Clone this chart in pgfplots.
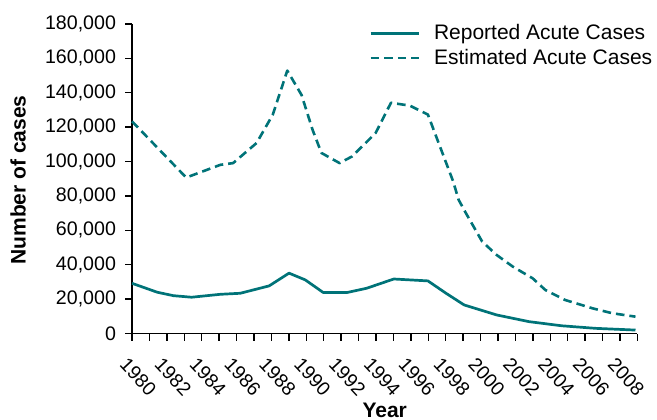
\documentclass[border=0pt]{standalone}
\usepackage{fontspec}
\setmainfont{Liberation Sans}
\usepackage{pgfplots}
\pgfplotsset{compat=1.18}
\definecolor{lineteal}{RGB}{0,115,120}
\begin{document}
\begin{tikzpicture}
\path[use as bounding box] (-66pt,-42.75pt) rectangle (262.5pt,166.75pt);
\begin{axis}[
  at={(0,0)}, anchor=south west,
  scale only axis, width=252.7pt, height=154.75pt,
  xmin=1980, xmax=2009, ymin=0, ymax=180000,
  axis lines=left, axis line style={-, line width=0.7pt},
  clip=false,
  xtick={1980,1982,...,2008}, minor xtick={1981,1983,...,2009},
  xticklabels={1980,1982,1984,1986,1988,1990,1992,1994,1996,1998,2000,2002,2004,2006,2008},
  ytick={0,20000,40000,60000,80000,100000,120000,140000,160000,180000},
  yticklabels={0,{20,000},{40,000},{60,000},{80,000},{100,000},{120,000},{140,000},{160,000},{180,000}},
  tick align=outside, major tick length=3.5pt, minor tick length=3.5pt,
  every tick/.style={black, line width=0.7pt},
  minor tick style={black, line width=0.7pt},
  scaled y ticks=false,
  yticklabel style={font=\fontsize{9.8}{11}\selectfont, xshift=-1pt},
  xticklabel style={font=\fontsize{9.6}{11}\selectfont, rotate=-47, anchor=north west, inner sep=0pt, xshift=4.5pt, yshift=-6.5pt},
  xlabel={Year}, ylabel={Number of cases},
  xlabel style={font=\bfseries\fontsize{10.5}{12}\selectfont, at={(axis description cs:0.5,-0.2472)}, anchor=center},
  ylabel style={font=\bfseries\fontsize{10.5}{12}\selectfont, at={(axis description cs:-0.2253,0.496)}, anchor=center},
  legend style={at={(1.05,1.025)}, anchor=north east, draw=none, fill=none,
    font=\fontsize{10.5}{12}\selectfont, row sep=-1pt},
  legend cell align=left,
  legend image code/.code={\draw[#1] (0pt,0pt) -- (24pt,0pt); \path (29pt,0pt);},
]
\addplot[lineteal, line width=1.35pt, line join=round] coordinates {
 (1980,29200) (1981.45,24000) (1982.38,22000) (1983.42,21100) (1985.07,22800)
 (1986.21,23400) (1987.87,27700) (1989.01,35100) (1989.94,31200) (1990.98,23800)
 (1992.32,23800) (1993.46,26300) (1995.02,31700) (1996.98,30600) (1998.02,23400)
 (1999.06,16600) (2000.92,10800) (2002.78,6900) (2004.65,4500) (2006.61,3000)
 (2008.89,2000)
};
\addlegendentry{Reported Acute Cases}
\addplot[lineteal, line width=1.3pt, line join=round, dash pattern=on 4.3pt off 2.5pt] coordinates {
 (1980,123400) (1983.11,90700) (1985.07,98100) (1985.80,99100) (1987.15,110800)
 (1988.08,127300) (1988.91,152900) (1989.73,138700) (1990.36,118500) (1990.87,105000)
 (1991.91,99100) (1992.63,103000) (1993.98,116600) (1994.86,134200) (1995.95,132500)
 (1996.98,127300) (1998.43,88400) (1998.74,77800) (1999.16,70000) (2000.09,53500)
 (2000.92,45700) (2001.85,38900) (2002.99,32100) (2003.72,25300) (2004.85,19500)
 (2006.41,14700) (2007.55,11800) (2008.89,9800)
};
\addlegendentry{Estimated Acute Cases}
\end{axis}
\end{tikzpicture}
\end{document}
